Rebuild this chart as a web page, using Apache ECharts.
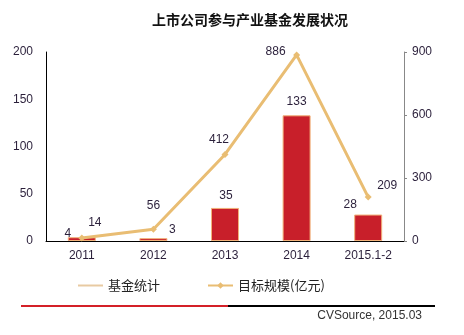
<!DOCTYPE html>
<html><head><meta charset="utf-8">
<script src="https://cdn.jsdelivr.net/npm/echarts@6/dist/echarts.min.js"></script>
<style>html,body{margin:0;padding:0;background:#fff}#c{width:464px;height:335px}</style>
</head><body><div id="c"></div>
<script>
const categories = ['2011','2012','2013','2014','2015.1-2'];
const fundCounts = [4, 3, 35, 133, 28];
const targetScale = [14, 56, 412, 886, 209];
const leftTicks = [0, 50, 100, 150, 200];
const rightTicks = [0, 300, 600, 900];

const barLabelOffsets = [[-14,7],[19,3],[1,-1],[0,-3],[-18,1]];
const lineLabelOffsets = [[13,-1],[0,-9],[-6,0],[-21,11],[19,3]];

const numFont = '"Liberation Sans", Arial, sans-serif';
const cjkFont = '"Noto Sans CJK SC", sans-serif';
const txt = '#2a1f3a';

const chart = echarts.init(document.getElementById('c'), null, {renderer:'canvas'});
chart.setOption({
  animation: false,
  title: {
    text: '上市公司参与产业基金发展状况',
    left: 245, top: 8, textAlign: 'center',
    textStyle: {fontFamily: cjkFont, fontSize: 14, fontWeight: 'bold', color: '#111'}
  },
  grid: {left: 46, right: 60, top: 52, bottom: 94},
  legend: [
    {
      left: 78, top: 279, padding: 0, itemWidth: 25, itemHeight: 2,
      data: [{name: '基金统计', icon: 'rect', itemStyle: {color: '#e8caa2', borderWidth: 0}}],
      textStyle: {fontFamily: cjkFont, fontSize: 13, color: '#222'}
    },
    {
      left: 207, top: 279, padding: 0, itemWidth: 25, itemHeight: 8,
      data: ['目标规模(亿元)'],
      textStyle: {fontFamily: cjkFont, fontSize: 13, color: '#222'}
    }
  ],
  xAxis: {
    type: 'category', data: categories,
    axisLine: {lineStyle: {color: '#000', width: 1}},
    axisTick: {show: false},
    axisLabel: {fontFamily: numFont, fontSize: 12, color: txt, margin: 9}
  },
  yAxis: [
    {
      type: 'value', min: 0, max: 200, interval: 50,
      axisLine: {show: true, lineStyle: {color: '#000'}},
      axisTick: {show: false},
      splitLine: {show: false},
      axisLabel: {fontFamily: numFont, fontSize: 12, color: txt, margin: 13}
    },
    {
      type: 'value', min: 0, max: 900, interval: 300, position: 'right',
      axisLine: {show: true, lineStyle: {color: '#888'}},
      axisTick: {show: true, length: 3, lineStyle: {color: '#888'}},
      splitLine: {show: false},
      axisLabel: {fontFamily: numFont, fontSize: 12, color: txt, margin: 8}
    }
  ],
  series: [
    {
      name: '基金统计', type: 'bar', yAxisIndex: 0, barWidth: 28,
      itemStyle: {color: '#c81f2a', borderColor: '#f2b27a', borderWidth: 1},
      data: fundCounts.map((v,i)=>({value: v, label: {offset: barLabelOffsets[i]}})),
      label: {show: true, position: 'top', fontFamily: numFont, fontSize: 12, color: txt}
    },
    {
      name: '目标规模(亿元)', type: 'line', yAxisIndex: 1,
      symbol: 'diamond', symbolSize: 7,
      lineStyle: {color: '#e9bd73', width: 3},
      itemStyle: {color: '#e9bd73'},
      data: targetScale.map((v,i)=>({value: v, label: {offset: lineLabelOffsets[i]}})),
      label: {show: true, position: 'top', fontFamily: numFont, fontSize: 12, color: txt},
      z: 5
    }
  ],
  graphic: [
    {type: 'rect', shape: {x: 21, y: 305, width: 207, height: 2}, style: {fill: '#d42028'}, silent: true},
    {type: 'rect', shape: {x: 228, y: 305, width: 207, height: 2}, style: {fill: '#000'}, silent: true},
    {type: 'text', right: 42, top: 310, style: {text: 'CVSource, 2015.03', font: '12px "Liberation Sans", Arial, sans-serif', fill: '#333'}, silent: true}
  ]
});
</script></body></html>
